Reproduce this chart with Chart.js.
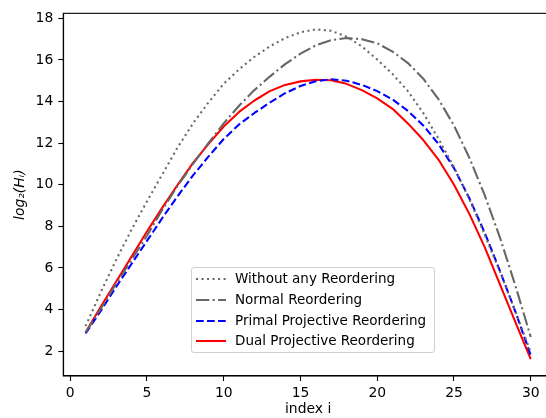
<!DOCTYPE html>
<html><head><meta charset="utf-8">
<script src="https://cdn.jsdelivr.net/npm/chart.js@4/dist/chart.umd.min.js"></script>
<style>
html,body{margin:0;padding:0;overflow:hidden;background:#fff;width:546px;height:418px;}
#wrap{position:absolute;left:0;top:0;width:556px;height:418px;}
#legend{position:absolute;left:191px;top:267px;width:244px;height:86px;border:1px solid #d0d0d0;border-radius:3px;background:rgba(255,255,255,0.8);font-family:"DejaVu Sans";font-size:13.5px;color:#000;box-sizing:border-box;z-index:2;}
.row{position:absolute;left:0;height:20px;width:240px;}
.row svg{position:absolute;left:3px;top:0;}
.row span{position:absolute;left:43px;top:0px;line-height:18px;white-space:nowrap;}
</style></head>
<body>
<div id="wrap"><canvas id="c" width="556" height="418"></canvas></div>
<div id="legend"></div>
<script>
const indices = [1,2,3,4,5,6,7,8,9,10,11,12,13,14,15,16,17,18,19,20,21,22,23,24,25,26,27,28,29,30];
const withoutReordering = [3.2,4.85,6.4,7.85,9.2,10.5,11.8,12.95,13.95,14.85,15.55,16.15,16.65,17.05,17.33,17.47,17.4,17.12,16.65,16.02,15.32,14.5,13.45,12.2,10.85,9.3,7.6,5.8,3.9,1.95];
const normalReordering = [2.9,4.05,5.25,6.4,7.55,8.8,9.95,11.0,12.0,12.95,13.8,14.55,15.2,15.8,16.3,16.7,16.95,17.05,17.0,16.8,16.4,15.85,15.1,14.1,12.85,11.3,9.5,7.45,5.15,2.68];
const primalProjective = [2.85,3.95,5.1,6.2,7.3,8.4,9.45,10.45,11.35,12.2,12.9,13.45,13.95,14.4,14.75,14.98,15.07,15.0,14.8,14.5,14.1,13.55,12.85,11.95,10.8,9.35,7.7,5.85,3.9,1.8];
const dualProjective = [2.9,4.15,5.35,6.55,7.75,8.9,10.0,11.05,11.95,12.8,13.5,14.05,14.5,14.8,14.97,15.05,15.02,14.85,14.55,14.15,13.65,12.95,12.15,11.2,10.0,8.6,7.0,5.2,3.4,1.62];
const seriesNames = ['Without any Reordering','Normal Reordering','Primal Projective Reordering','Dual Projective Reordering'];
const xTicks = [0,5,10,15,20,25,30];
const yTicks = [2,4,6,8,10,12,14,16,18];

const LW = 2.08;
const styles = [
  {color:'#6a6a6a', dash:[LW*1, LW*1.65]},
  {color:'#666666', dash:[LW*6.4, LW*1.6, LW*1, LW*1.6]},
  {color:'#0000ff', dash:[LW*3.7, LW*1.6]},
  {color:'#ff0000', dash:[]}
];
const allSeries = [withoutReordering, normalReordering, primalProjective, dualProjective];

const datasets = allSeries.map((vals,k)=>({
  label: seriesNames[k],
  data: indices.map((x,j)=>({x:x, y:vals[j]})),
  borderColor: styles[k].color,
  borderDash: styles[k].dash,
  borderWidth: LW,
  borderCapStyle: 'butt',
  borderJoinStyle: 'round',
  pointRadius: 0,
  tension: 0,
  fill: false
}));

const font = {family:'"DejaVu Sans"', size:13.9};

const framePlugin = {
  id:'frame',
  afterDraw(chart){
    const {ctx, chartArea:a} = chart;
    ctx.save();
    ctx.strokeStyle='#000';
    ctx.lineWidth=1.1;
    ctx.strokeRect(a.left, a.top, a.right-a.left, a.bottom-a.top);
    ctx.restore();
  }
};

new Chart(document.getElementById('c'), {
  type:'line',
  data:{datasets},
  options:{
    responsive:false, animation:false, devicePixelRatio:1,
    layout:{padding:{top:11.7,right:3,bottom:0,left:0}},
    plugins:{legend:{display:false}, tooltip:{enabled:false}},
    scales:{
      x:{
        type:'linear', min:-0.45, max:31.45,
        afterBuildTicks:s=>{s.ticks = xTicks.map(v=>({value:v}));},
        afterFit:s=>{s.height=42;},
        ticks:{font, color:'#000', padding:4, maxRotation:0, callback:v=>String(v)},
        grid:{drawOnChartArea:false, drawTicks:true, tickLength:5, color:'#000', tickWidth:1.1},
        border:{color:'#000', width:1.1},
        title:{display:true, text:'index i', font, color:'#000', padding:{top:0,bottom:0}}
      },
      y:{
        type:'linear', min:0.806, max:18.24,
        afterBuildTicks:s=>{s.ticks = yTicks.map(v=>({value:v}));},
        afterFit:s=>{s.width=63.3;},
        ticks:{font, color:'#000', padding:5, callback:v=>String(v)},
        grid:{drawOnChartArea:false, drawTicks:true, tickLength:5, color:'#000', tickWidth:1.1},
        border:{color:'#000', width:1.1},
        title:{display:true, text:'log\u2082(H\u1D62)', font:{family:'"DejaVu Sans"', size:13.9, style:'italic'}, color:'#000', padding:{top:12.5,bottom:0}}
      }
    }
  },
  plugins:[framePlugin]
});

// HTML legend
const leg = document.getElementById('legend');
const rowTops = [0, 21, 41.5, 62];
seriesNames.forEach((name,k)=>{
  const row = document.createElement('div');
  row.className='row';
  row.style.top = (rowTops[k]+1) + 'px';
  const dash = styles[k].dash.length ? styles[k].dash.join(',') : 'none';
  row.innerHTML = '<svg width="32" height="20"><line x1="1" y1="10" x2="31" y2="10" stroke="'+styles[k].color+'" stroke-width="'+LW+'" stroke-dasharray="'+dash+'" stroke-linecap="butt"/></svg><span></span>';
  row.querySelector('span').textContent = name;
  leg.appendChild(row);
});
</script>
</body></html>
